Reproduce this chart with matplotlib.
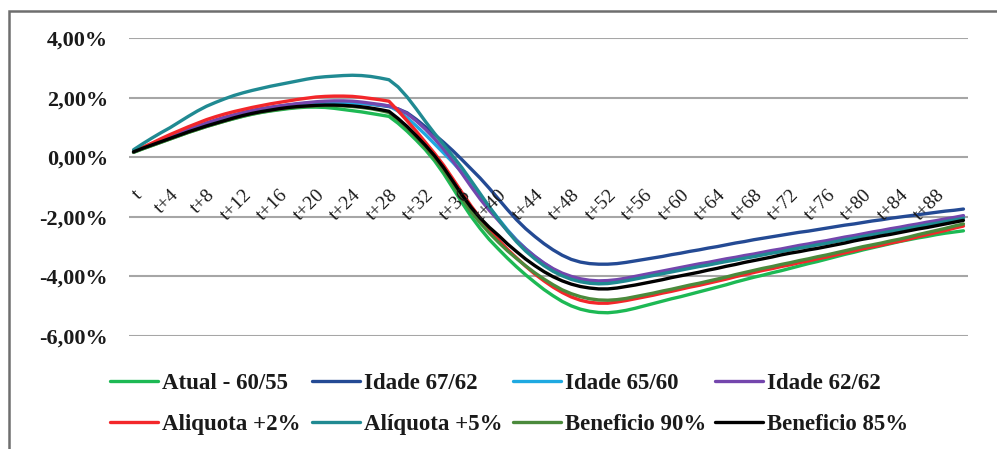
import matplotlib
matplotlib.use("Agg")
import matplotlib.pyplot as plt
from matplotlib.patches import Rectangle

# Period labels t, t+1, ..., t+91
periods = ["t"] + [f"t+{k}" for k in range(1, 92)]
label_every = 4

y_ticks = [-6, -4, -2, 0, 2, 4]
y_tick_labels = ["-6,00%", "-4,00%", "-2,00%", "0,00%", "2,00%", "4,00%"]

atual = [
    0.16, 0.28, 0.39, 0.50, 0.61, 0.72, 0.83, 0.93, 1.03, 1.12,
    1.21, 1.29, 1.37, 1.44, 1.50, 1.55, 1.59, 1.63, 1.66, 1.68,
    1.68, 1.67, 1.64, 1.60, 1.56, 1.52, 1.47, 1.42, 1.37, 1.14,
    0.87, 0.57, 0.25, -0.12, -0.55, -1.03, -1.52, -1.98, -2.39, -2.76,
    -3.08, -3.39, -3.68, -3.95, -4.20, -4.44, -4.65, -4.84, -4.99, -5.10,
    -5.17, -5.21, -5.22, -5.19, -5.14, -5.07, -4.99, -4.91, -4.83, -4.75,
    -4.68, -4.60, -4.52, -4.44, -4.36, -4.28, -4.19, -4.11, -4.03, -3.96,
    -3.88, -3.81, -3.73, -3.65, -3.57, -3.50, -3.42, -3.34, -3.26, -3.19,
    -3.11, -3.04, -2.97, -2.90, -2.83, -2.77, -2.71, -2.66, -2.60, -2.55,
    -2.51, -2.47,
]

idade_67_62 = [
    0.18, 0.31, 0.43, 0.55, 0.67, 0.79, 0.91, 1.02, 1.13, 1.23,
    1.32, 1.41, 1.48, 1.55, 1.61, 1.66, 1.71, 1.75, 1.78, 1.81,
    1.83, 1.84, 1.85, 1.84, 1.83, 1.81, 1.78, 1.74, 1.70, 1.62,
    1.49, 1.27, 1.02, 0.76, 0.50, 0.22, -0.08, -0.39, -0.70, -1.04,
    -1.40, -1.76, -2.10, -2.40, -2.66, -2.90, -3.11, -3.29, -3.43, -3.52,
    -3.57, -3.59, -3.59, -3.57, -3.53, -3.48, -3.43, -3.38, -3.33, -3.27,
    -3.22, -3.16, -3.11, -3.05, -3.00, -2.94, -2.88, -2.83, -2.77, -2.72,
    -2.67, -2.62, -2.57, -2.52, -2.48, -2.43, -2.38, -2.33, -2.28, -2.24,
    -2.19, -2.14, -2.10, -2.05, -2.01, -1.97, -1.93, -1.89, -1.85, -1.81,
    -1.78, -1.74,
]

idade_65_60 = [
    0.18, 0.31, 0.43, 0.55, 0.66, 0.78, 0.90, 1.01, 1.12, 1.22,
    1.31, 1.40, 1.47, 1.54, 1.60, 1.65, 1.70, 1.74, 1.77, 1.80,
    1.82, 1.83, 1.84, 1.83, 1.82, 1.80, 1.78, 1.75, 1.72, 1.55,
    1.32, 1.05, 0.76, 0.45, 0.14, -0.17, -0.50, -0.88, -1.28, -1.68,
    -2.06, -2.44, -2.78, -3.07, -3.33, -3.56, -3.76, -3.92, -4.04, -4.12,
    -4.17, -4.19, -4.18, -4.14, -4.09, -4.03, -3.97, -3.91, -3.85, -3.79,
    -3.73, -3.67, -3.61, -3.56, -3.50, -3.44, -3.39, -3.33, -3.28, -3.22,
    -3.16, -3.11, -3.05, -2.99, -2.94, -2.88, -2.83, -2.77, -2.71, -2.66,
    -2.60, -2.54, -2.49, -2.43, -2.38, -2.32, -2.27, -2.21, -2.16, -2.10,
    -2.05, -1.99,
]

idade_62_62 = [
    0.18, 0.31, 0.44, 0.56, 0.68, 0.80, 0.92, 1.04, 1.15, 1.25,
    1.34, 1.42, 1.50, 1.57, 1.63, 1.68, 1.72, 1.76, 1.80, 1.83,
    1.86, 1.88, 1.89, 1.89, 1.88, 1.85, 1.81, 1.77, 1.72, 1.62,
    1.46, 1.22, 0.94, 0.62, 0.27, -0.12, -0.54, -0.98, -1.40, -1.78,
    -2.12, -2.47, -2.80, -3.08, -3.33, -3.55, -3.74, -3.89, -4.00, -4.08,
    -4.13, -4.15, -4.14, -4.11, -4.06, -4.00, -3.94, -3.88, -3.82, -3.76,
    -3.70, -3.64, -3.58, -3.53, -3.47, -3.41, -3.36, -3.30, -3.25, -3.19,
    -3.13, -3.08, -3.02, -2.96, -2.91, -2.85, -2.80, -2.74, -2.68, -2.63,
    -2.57, -2.51, -2.46, -2.40, -2.35, -2.29, -2.24, -2.18, -2.13, -2.07,
    -2.02, -1.96,
]

aliquota_2 = [
    0.18, 0.33, 0.47, 0.62, 0.76, 0.89, 1.02, 1.14, 1.26, 1.36,
    1.45, 1.53, 1.60, 1.67, 1.73, 1.79, 1.84, 1.89, 1.94, 1.98,
    2.02, 2.04, 2.05, 2.05, 2.04, 2.01, 1.97, 1.93, 1.88, 1.56,
    1.22, 0.87, 0.50, 0.13, -0.27, -0.72, -1.18, -1.63, -2.04, -2.42,
    -2.77, -3.09, -3.38, -3.66, -3.92, -4.15, -4.36, -4.54, -4.69, -4.80,
    -4.87, -4.90, -4.90, -4.86, -4.81, -4.75, -4.69, -4.63, -4.56, -4.50,
    -4.43, -4.36, -4.30, -4.23, -4.16, -4.09, -4.01, -3.94, -3.87, -3.80,
    -3.74, -3.67, -3.61, -3.54, -3.48, -3.41, -3.35, -3.28, -3.21, -3.14,
    -3.07, -3.01, -2.95, -2.88, -2.82, -2.75, -2.67, -2.60, -2.53, -2.46,
    -2.38, -2.31,
]

aliquota_5 = [
    0.25, 0.45, 0.64, 0.82, 0.99, 1.18, 1.37, 1.55, 1.71, 1.84,
    1.96, 2.07, 2.16, 2.24, 2.31, 2.38, 2.44, 2.50, 2.56, 2.62,
    2.67, 2.70, 2.72, 2.74, 2.75, 2.74, 2.71, 2.66, 2.60, 2.36,
    2.02, 1.62, 1.20, 0.80, 0.42, 0.04, -0.35, -0.78, -1.22, -1.66,
    -2.08, -2.48, -2.84, -3.15, -3.41, -3.64, -3.83, -3.98, -4.10, -4.18,
    -4.23, -4.25, -4.24, -4.20, -4.15, -4.09, -4.03, -3.97, -3.91, -3.85,
    -3.79, -3.73, -3.67, -3.62, -3.56, -3.50, -3.45, -3.39, -3.34, -3.28,
    -3.22, -3.17, -3.11, -3.05, -3.00, -2.94, -2.89, -2.83, -2.77, -2.72,
    -2.66, -2.60, -2.55, -2.49, -2.44, -2.38, -2.33, -2.27, -2.22, -2.16,
    -2.11, -2.05,
]

beneficio_90 = [
    0.17, 0.28, 0.39, 0.50, 0.61, 0.72, 0.83, 0.93, 1.03, 1.12,
    1.21, 1.30, 1.38, 1.45, 1.51, 1.56, 1.61, 1.65, 1.68, 1.70,
    1.72, 1.73, 1.73, 1.72, 1.70, 1.67, 1.63, 1.57, 1.50, 1.26,
    0.98, 0.67, 0.33, -0.03, -0.44, -0.90, -1.38, -1.82, -2.20, -2.54,
    -2.85, -3.14, -3.40, -3.65, -3.88, -4.09, -4.28, -4.45, -4.58, -4.68,
    -4.75, -4.79, -4.80, -4.78, -4.74, -4.68, -4.62, -4.56, -4.49, -4.43,
    -4.36, -4.29, -4.23, -4.16, -4.09, -4.02, -3.94, -3.87, -3.80, -3.73,
    -3.67, -3.60, -3.54, -3.47, -3.41, -3.34, -3.28, -3.21, -3.14, -3.07,
    -3.00, -2.94, -2.88, -2.81, -2.75, -2.68, -2.60, -2.53, -2.46, -2.39,
    -2.31, -2.24,
]

beneficio_85 = [
    0.18, 0.30, 0.41, 0.52, 0.63, 0.74, 0.85, 0.95, 1.05, 1.14,
    1.23, 1.32, 1.40, 1.47, 1.53, 1.58, 1.63, 1.67, 1.70, 1.72,
    1.74, 1.75, 1.75, 1.74, 1.72, 1.69, 1.65, 1.60, 1.54, 1.30,
    1.03, 0.72, 0.40, 0.05, -0.35, -0.80, -1.26, -1.68, -2.04, -2.35,
    -2.62, -2.91, -3.17, -3.42, -3.64, -3.84, -4.01, -4.15, -4.26, -4.34,
    -4.39, -4.42, -4.42, -4.39, -4.34, -4.29, -4.23, -4.17, -4.11, -4.04,
    -3.98, -3.92, -3.86, -3.79, -3.73, -3.66, -3.60, -3.53, -3.47, -3.41,
    -3.35, -3.28, -3.22, -3.17, -3.11, -3.06, -3.00, -2.94, -2.88, -2.81,
    -2.75, -2.70, -2.64, -2.59, -2.53, -2.47, -2.41, -2.36, -2.30, -2.24,
    -2.18, -2.12,
]

series = [
    ("Atual - 60/55", atual, "#1db954"),
    ("Idade 67/62", idade_67_62, "#244a94"),
    ("Idade 65/60", idade_65_60, "#1fa9e1"),
    ("Idade 62/62", idade_62_62, "#7446ad"),
    ("Aliquota +2%", aliquota_2, "#f3272a"),
    ("Alíquota +5%", aliquota_5, "#208a92"),
    ("Beneficio 90%", beneficio_90, "#4b8a3c"),
    ("Beneficio 85%", beneficio_85, "#000000"),
]

W, H = 997, 449
fig = plt.figure(figsize=(W / 100, H / 100), dpi=100)
fig.patch.set_facecolor("white")

# chart frame
fig.add_artist(Rectangle((9 / W, -0.02), 1.05, 1 - 11 / H + 0.02,
                         transform=fig.transFigure, fill=False,
                         edgecolor="#6e6e6e", linewidth=1.8))

ax = fig.add_axes([129 / W, 1 - 336 / H, (968 - 129) / W, (336 - 38) / H])
ax.set_facecolor("none")
x = list(range(len(periods)))

lines = []
for name, vals, col in series:
    ln, = ax.plot(x, vals, color=col, lw=2.4, label=name,
                  solid_joinstyle="round", solid_capstyle="round")
    lines.append(ln)

ax.set_xlim(-0.5, len(periods) - 0.5)
ax.set_ylim(-6, 4)
ax.set_yticks(y_ticks)
ax.set_yticklabels(y_tick_labels)
ax.yaxis.grid(True, color="#a6a6a6", lw=1.5)
ax.set_axisbelow(True)
ax.tick_params(axis="y", length=0, pad=15)
for lab in ax.get_yticklabels():
    lab.set_fontfamily("Liberation Serif")
    lab.set_fontweight("bold")
    lab.set_fontsize(16)
    lab.set_color("#1a1a1a")
ax.set_xticks([])
for s in ax.spines.values():
    s.set_visible(False)

# category labels hanging under the zero line, rotated
for i in range(0, len(periods), label_every):
    ax.annotate(periods[i], xy=(i, 0), xytext=(4.3, -25.5),
                textcoords="offset points", rotation=45,
                ha="right", va="center", rotation_mode="anchor",
                fontfamily="Liberation Serif", fontsize=14,
                color="#1a1a1a", annotation_clip=False)

# legend: four equally spaced columns of two entries
col_left = [110, 312, 513, 715]
for c in range(4):
    hs = [lines[c], lines[c + 4]]
    leg = fig.legend(hs, [h.get_label() for h in hs],
                     loc="upper left",
                     bbox_to_anchor=(col_left[c] / W, 1 - 373 / H),
                     frameon=False, ncol=1, borderpad=0, borderaxespad=0,
                     handlelength=2.1, handletextpad=0.15,
                     labelspacing=0.85,
                     prop={"family": "Liberation Serif", "weight": "bold",
                           "size": 16.5})
    for t in leg.get_texts():
        t.set_color("#1a1a1a")

fig.savefig("out.png", dpi=100, facecolor="white")
